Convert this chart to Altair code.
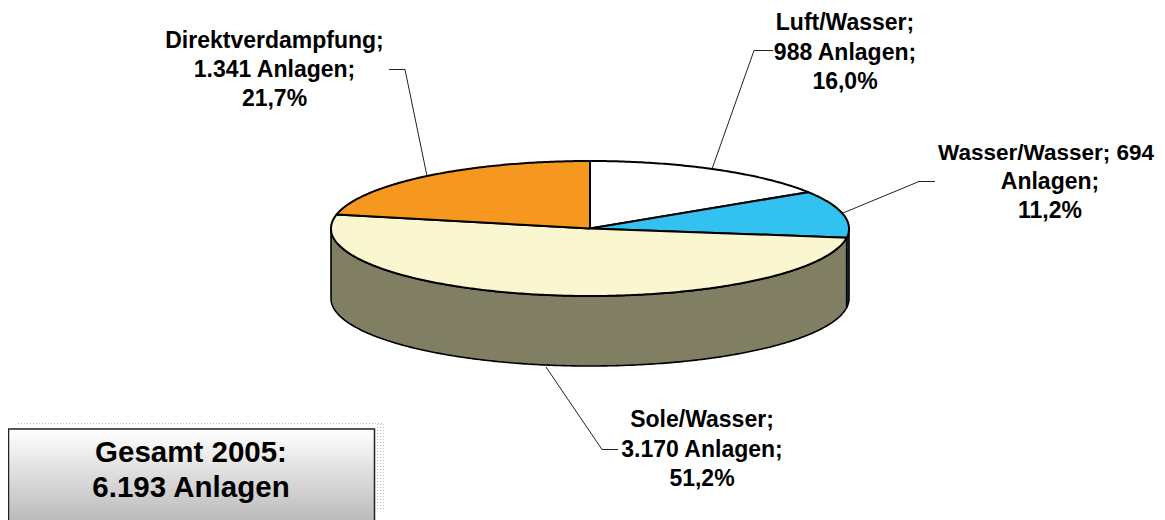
import math
import altair as alt
import pandas as pd

categories = ["Luft/Wasser", "Wasser/Wasser", "Sole/Wasser", "Direktverdampfung"]
anlagen = [988, 694, 3170, 1341]
top_colors = ["#FFFFFF", "#33C1EF", "#FAF6CF", "#F6981F"]
side_colors = ["#808080", "#1A6A84", "#807F63", "#7B4C10"]

labels = [
    (["Luft/Wasser;", "988 Anlagen;", "16,0%"], [845, 845, 845], [23, 53, 82], [23, 23, 23]),
    (["Wasser/Wasser; 694", "Anlagen;", "11,2%"], [1046, 1050, 1050], [153, 182, 211], [22.5, 23, 23]),
    (["Sole/Wasser;", "3.170 Anlagen;", "51,2%"], [702, 702, 702], [420, 450, 479], [23, 23, 23]),
    (["Direktverdampfung;", "1.341 Anlagen;", "21,7%"], [274.5, 274.5, 274.5], [41, 70, 99], [23, 23, 23]),
]
box_lines = ["Gesamt 2005:", "6.193 Anlagen"]

W, H = 1149, 512
OX, OY = 8, 8
CX, CY, RX, RY, DEPTH = 590, 228.5, 259, 67.5, 70
x_scale = alt.Scale(domain=[(OX - CX) / RX, (OX + W - CX) / RX], range=[0, W], nice=False, zero=False)
y_scale = alt.Scale(domain=[(CY - OY - H) / RY, (CY - OY) / RY], range=[H, 0], nice=False, zero=False)


def pt(deg, drop=0.0):
    a = math.radians(deg)
    return math.sin(a), math.cos(a) - drop


def arc(a0, a1, drop=0.0):
    n = max(2, int(abs(a1 - a0) * 1.5))
    return [pt(a0 + (a1 - a0) * i / n, drop) for i in range(n + 1)]


def poly(points, fill, width=2.0):
    df = pd.DataFrame({"x": [p[0] for p in points], "y": [p[1] for p in points], "i": range(len(points))})
    return alt.Chart(df).mark_line(fill=fill, stroke="#000000", strokeWidth=width, strokeJoin="round", clip=True).encode(
        x=alt.X("x:Q", scale=x_scale, axis=None),
        y=alt.Y("y:Q", scale=y_scale, axis=None),
        order=alt.Order("i:Q"),
    )


def seg(x1, y1, x2, y2, color="#222222", width=1.0, dash=None):
    kw = {"color": color, "strokeWidth": width}
    if dash:
        kw["strokeDash"] = dash
    return alt.Chart(pd.DataFrame({"k": [0]})).mark_rule(**kw).encode(
        x=alt.value(x1 - OX), x2=alt.value(x2 - OX), y=alt.value(y1 - OY), y2=alt.value(y2 - OY)
    )


def txt(s, x, y, size):
    return alt.Chart(pd.DataFrame({"k": [0]})).mark_text(
        font="Liberation Sans", fontWeight="bold", fontSize=size, align="center", baseline="middle", color="#000000"
    ).encode(x=alt.value(x - OX), y=alt.value(y - OY), text=alt.value(s))


total = sum(anlagen)
starts, cum = [], 0
for v in anlagen:
    starts.append(cum / total * 360)
    cum += v
ends = starts[1:] + [360]
d = DEPTH / RY

layers = []

# Leader lines
for pts in [
    [(389, 69.5), (405, 69.5), (427, 176)],
    [(773, 50.5), (754, 50.5), (712, 169)],
    [(935, 181.5), (919, 181.5), (843, 213)],
    [(546, 367), (602, 449.5), (618, 449.5)],
]:
    for a, b in zip(pts, pts[1:]):
        layers.append(seg(a[0], a[1], b[0], b[1]))

# Side wall (front half only)
for s, e, c in zip(starts, ends, side_colors):
    a0, a1 = max(s, 90), min(e, 270)
    if a1 > a0:
        layers.append(poly(arc(a0, a1) + arc(a1, a0, d) + [pt(a0)], c, 1.6))

# Top face
for s, e, c in zip(starts, ends, top_colors):
    layers.append(poly([(0, 0)] + arc(s, e) + [(0, 0)], c))

# Text box with selection dots
layers.append(seg(18, 423.5, 384, 423.5, color="#BBBBBB", width=1, dash=[1, 2]))
for xx in (377.5, 380.5, 383.5):
    layers.append(seg(xx, 424, xx, 510, color="#BBBBBB", width=1, dash=[1, 2]))
grad = alt.Gradient(
    gradient="linear", x1=0, x2=0, y1=0, y2=1,
    stops=[alt.GradientStop(offset=0, color="#FFFFFF"), alt.GradientStop(offset=1, color="#B4B4B4")],
)
layers.append(
    alt.Chart(pd.DataFrame({"k": [0]})).mark_rect(fill=grad, stroke="#222222", strokeWidth=1.5).encode(
        x=alt.value(8.5 - OX), x2=alt.value(374.5 - OX), y=alt.value(429 - OY), y2=alt.value(530 - OY)
    )
)
for s, y in zip(box_lines, [453, 488]):
    layers.append(txt(s, 191, y, 29.5))

# Data labels
for lines, xs, ys, sizes in labels:
    for s, x, y, size in zip(lines, xs, ys, sizes):
        layers.append(txt(s, x, y, size))

chart = alt.layer(*layers).properties(
    width=W, height=H, padding=0, background="#FFFFFF", autosize=alt.AutoSizeParams(type="none")
).configure_view(stroke=None)
chart.save("out.html", embed_options={"renderer": "svg", "actions": False})
